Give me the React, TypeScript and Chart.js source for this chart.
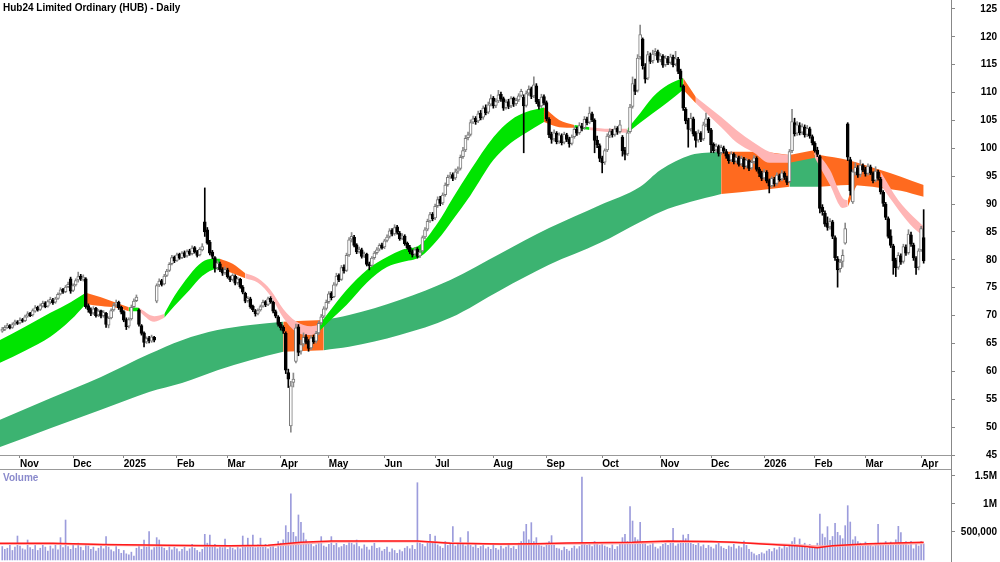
import React, { useEffect, useRef } from "react";
import { Chart, registerables } from "chart.js";

Chart.register(...registerables);

const TITLE = "Hub24 Limited Ordinary (HUB) - Daily";
const VOLUME_LABEL = "Volume";

// Daily candles, index 0 = 23 Oct 2024
const opens = [
  67.2,67.5,67.9,68.2,67.9,68.5,68.9,68.7,69.3,69.1,
  69.9,70.4,70.1,70.8,71.5,71.1,71.7,72.3,71.7,72.4,
  72.8,72.4,73.1,73.9,74.7,74.3,75.2,76.6,74.5,75.5,
  76.4,77.1,76.5,76.6,71.8,71.1,70.5,71.3,70.1,70.9,
  70.0,70.4,68.3,69.6,71.0,71.9,72.4,71.5,70.7,69.3,
  68.1,69.4,71.6,72.7,71.0,68.2,66.9,65.3,66.0,65.4,
  66.1,72.6,75.5,76.3,75.7,77.2,78.1,79.3,80.5,79.9,
  81.0,80.4,81.3,80.7,81.6,81.1,82.2,81.5,80.9,81.8,
  86.8,85.4,83.2,81.4,80.4,78.6,79.3,78.3,77.7,78.2,
  76.9,76.5,77.1,75.9,76.5,75.1,74.0,72.7,73.0,71.7,
  70.9,70.4,71.0,71.7,72.5,72.0,73.1,72.4,70.7,69.8,
  68.5,67.9,66.8,59.8,50.2,58.0,61.8,68.0,63.6,64.9,
  66.2,65.4,64.2,66.1,65.4,66.9,68.7,69.9,71.3,72.5,
  74.0,73.4,75.6,77.2,76.5,78.7,78.1,80.9,83.7,84.1,
  82.7,81.5,81.8,80.7,81.0,79.3,79.0,80.4,81.3,81.9,
  82.7,82.3,83.5,84.2,85.3,84.7,85.9,84.8,83.9,84.2,
  83.0,82.3,81.5,81.0,81.9,80.7,81.6,84.1,85.5,87.0,
  88.2,87.5,89.7,90.9,90.2,91.7,93.5,94.9,95.3,94.7,
  95.9,96.4,98.5,99.7,101.9,102.5,104.7,105.4,104.9,106.3,
  105.6,107.3,106.5,107.9,109.0,107.7,108.5,109.7,108.9,107.3,
  108.4,107.6,109.0,108.0,108.7,109.5,109.2,107.7,109.9,110.7,
  109.4,111.2,108.4,107.6,109.3,108.2,105.2,102.5,101.7,102.7,
  101.3,102.3,101.1,102.4,101.7,100.9,102.1,103.5,102.8,104.0,
  103.7,105.3,104.7,106.2,105.0,101.5,100.5,98.3,97.5,99.7,
  102.3,103.1,102.5,103.6,103.0,102.0,99.7,99.0,103.0,107.5,
  111.4,110.4,116.4,119.6,114.6,112.6,116.6,115.7,117.0,117.3,
  115.9,116.5,115.0,116.1,115.4,116.3,115.1,116.0,113.9,111.2,
  107.0,105.0,103.5,105.3,102.7,101.5,102.7,101.7,104.3,105.2,
  103.3,100.7,99.7,100.3,99.2,100.1,99.4,98.7,97.9,98.9,
  97.7,98.3,97.2,98.1,96.8,97.8,96.5,97.6,98.2,96.3,
  95.6,94.7,95.7,94.2,93.3,94.5,93.7,95.1,94.5,95.5,
  94.7,94.0,99.6,104.6,102.7,104.1,102.9,103.8,102.5,103.5,
  102.1,100.9,99.7,98.5,89.4,88.4,86.6,85.9,86.8,84.0,
  80.2,78.4,79.7,83.0,104.4,98.0,90.4,95.7,96.5,95.3,
  96.9,96.2,95.5,96.7,95.5,94.3,95.8,94.5,92.1,90.0,
  87.4,84.3,82.5,79.9,78.7,80.7,79.7,82.3,81.3,84.5,
  82.7,80.3,78.7,81.8,84.0
];
const highs = [
  67.9,68.2,68.6,68.4,68.7,69.2,69.1,69.6,69.5,70.1,
  70.7,70.6,71.2,71.8,71.7,72.1,72.6,72.5,72.8,73.3,
  73.1,73.3,74.1,75.0,74.9,75.4,76.0,76.9,75.7,76.6,
  77.8,77.4,77.3,76.8,72.1,71.4,71.6,71.5,71.1,71.0,
  70.9,70.6,69.8,71.2,72.2,72.8,72.6,71.7,70.9,69.6,
  69.6,71.9,73.0,73.7,71.2,68.4,67.1,66.2,66.3,66.5,
  66.3,75.7,76.6,76.5,77.4,78.3,79.5,80.8,80.7,81.2,
  81.2,81.5,81.6,81.8,81.9,82.5,82.4,81.7,82.2,82.9,
  92.9,85.8,83.5,81.7,80.6,79.8,79.6,78.6,78.7,78.5,
  77.1,77.5,77.3,76.9,76.7,75.4,74.2,73.4,73.3,71.9,
  71.1,71.2,71.9,72.8,72.7,73.3,73.4,72.6,71.0,70.0,
  68.8,68.2,67.1,60.4,58.2,59.7,68.5,68.4,65.6,66.9,
  66.6,65.7,66.4,66.5,67.2,69.0,70.2,71.6,72.8,74.3,
  74.3,75.9,77.6,77.5,79.0,79.1,81.2,84.0,84.9,84.4,
  82.9,82.3,82.1,81.4,81.2,79.6,80.6,81.5,82.2,82.9,
  83.0,83.7,84.5,85.6,85.6,86.3,86.2,85.1,84.7,84.5,
  83.2,82.6,81.8,82.2,82.2,81.7,84.3,85.8,87.3,88.5,
  88.5,90.0,91.3,91.4,92.0,93.8,95.2,95.7,95.6,96.3,
  96.7,98.8,100.2,102.3,102.9,105.1,105.8,105.7,106.7,106.8,
  107.6,107.8,108.3,109.6,109.3,108.9,110.4,110.1,109.2,108.7,
  108.8,109.3,109.2,109.0,109.8,110.6,109.6,110.3,111.2,111.0,
  112.8,111.6,108.8,109.7,109.6,108.5,105.5,102.9,103.3,103.0,
  102.8,102.6,102.9,102.7,102.0,102.4,103.9,103.8,104.6,104.5,
  105.7,105.6,107.4,106.5,105.3,102.2,100.8,98.6,99.9,102.6,
  103.5,103.4,104.0,103.9,105.0,102.3,100.2,103.2,107.9,112.8,
  112.4,116.8,122.1,119.8,115.2,117.4,117.1,117.6,117.9,117.6,
  117.0,116.8,116.6,116.5,116.9,116.7,117.4,116.3,114.2,111.4,
  107.3,105.4,106.3,105.6,103.0,103.3,103.0,104.7,106.3,105.5,
  103.6,101.0,100.8,100.6,100.6,100.4,99.8,98.9,99.4,99.2,
  98.8,98.6,98.6,98.4,98.2,98.0,97.9,98.7,98.5,96.6,
  95.9,96.2,96.0,94.5,94.9,94.8,95.6,95.4,96.0,95.8,
  95.0,99.8,107.0,105.4,104.8,104.6,104.4,104.2,104.1,103.8,
  102.4,101.2,100.2,98.8,89.9,88.8,87.7,87.4,87.1,84.3,
  80.6,80.1,81.8,86.6,104.6,98.4,96.2,97.4,96.9,97.9,
  97.2,96.6,97.2,97.0,95.8,96.7,96.1,94.8,92.4,90.3,
  87.7,85.4,82.8,80.3,81.3,81.1,82.8,82.7,85.4,85.0,
  83.0,80.6,82.0,86.0,89.0
];
const lows = [
  67.0,67.3,67.7,67.6,67.7,68.3,68.4,68.5,68.8,68.9,
  69.7,69.8,69.9,70.6,70.8,70.9,71.5,71.4,71.5,72.1,
  72.0,72.2,72.9,73.7,74.0,74.1,75.0,74.0,74.3,75.3,
  76.0,76.3,76.2,71.3,70.6,70.0,70.2,69.7,69.8,69.6,
  69.7,67.9,67.8,69.4,70.8,71.6,71.1,70.3,68.9,67.5,
  67.8,69.2,71.4,72.5,68.1,66.5,64.4,65.0,65.1,65.2,
  65.3,72.3,75.2,75.3,75.5,77.0,77.9,79.1,79.5,79.7,
  80.1,80.2,80.4,80.5,80.8,80.9,81.2,80.5,80.7,81.6,
  84.2,82.8,80.9,80.2,77.8,78.2,77.9,77.2,77.4,76.7,
  76.1,76.2,75.5,75.6,74.9,73.9,72.3,72.4,71.3,70.7,
  69.9,70.1,70.8,71.5,71.6,71.8,72.2,70.5,69.6,68.1,
  67.4,66.8,59.6,57.1,49.1,57.2,61.5,62.8,63.1,64.5,
  64.9,63.6,63.9,65.0,65.1,66.6,68.4,69.6,71.0,72.2,
  72.8,73.2,75.3,76.1,76.3,77.6,77.9,80.6,83.2,82.3,
  81.1,81.2,80.3,80.4,78.9,78.2,78.8,80.1,81.0,81.6,
  81.9,82.0,83.2,83.9,84.3,84.4,84.6,83.5,83.6,82.6,
  81.9,81.1,80.5,80.7,80.3,80.4,81.4,83.8,85.2,86.7,
  87.0,87.2,89.4,89.7,89.9,91.4,93.2,94.6,94.2,94.4,
  95.5,96.1,98.2,99.4,101.5,102.2,104.4,104.3,104.6,105.1,
  105.2,106.0,106.2,107.6,107.2,107.3,108.2,108.4,106.8,107.0,
  107.1,107.3,107.5,107.7,108.4,109.2,99.2,107.4,109.5,108.9,
  109.1,108.0,107.0,107.3,107.8,104.9,101.9,100.9,101.3,100.8,
  100.9,100.6,100.8,101.2,100.2,100.6,101.8,102.3,102.5,103.1,
  103.4,104.2,104.4,104.8,99.2,100.1,97.6,95.6,97.1,99.4,
  101.9,102.0,102.2,102.5,102.7,98.6,97.9,98.7,102.7,107.2,
  109.6,110.1,116.0,114.2,111.7,112.3,115.2,115.3,116.6,115.4,
  115.5,114.5,114.7,115.0,115.1,114.6,114.8,113.4,111.0,106.8,
  104.4,100.2,103.1,102.2,100.2,101.1,101.2,101.4,103.9,102.8,
  99.2,99.2,99.4,98.6,98.9,99.1,98.2,97.3,97.6,97.2,
  97.4,96.8,96.9,96.3,96.5,96.0,96.2,97.3,95.9,94.9,
  94.2,94.4,93.8,92.0,93.0,93.2,93.4,94.1,94.2,94.4,
  93.5,93.8,99.2,102.2,102.3,102.4,102.5,102.0,102.1,101.8,
  100.6,99.3,98.5,88.4,88.0,86.0,85.3,85.5,83.8,79.9,
  75.1,77.8,78.7,82.8,97.8,91.6,90.1,95.2,94.8,94.9,
  95.8,95.0,95.2,95.3,93.8,94.0,94.3,91.8,89.6,87.2,
  83.9,82.2,77.4,77.0,78.3,79.2,79.4,80.8,81.0,82.4,
  79.9,77.4,78.2,81.5,79.4
];
const closes = [
  67.6,67.9,68.3,67.8,68.4,68.9,68.6,69.2,69.0,69.8,
  70.3,70.0,70.9,71.4,71.0,71.8,72.2,71.6,72.5,72.9,
  72.3,73.0,73.8,74.6,74.2,75.1,75.6,74.4,75.4,76.3,
  77.0,76.6,76.9,71.6,71.0,70.4,71.2,70.0,70.8,69.9,
  70.6,68.4,69.5,70.9,71.8,72.3,71.4,70.6,69.2,68.0,
  69.3,71.5,72.6,73.3,68.4,66.8,65.2,65.9,65.5,66.2,
  65.6,75.4,76.2,75.6,77.1,78.0,79.2,80.4,79.8,80.9,
  80.3,81.2,80.6,81.5,81.0,82.1,81.4,80.8,81.9,82.4,
  85.0,83.0,81.2,80.6,78.5,79.4,78.2,77.6,78.3,77.0,
  76.4,77.2,75.8,76.6,75.2,74.2,72.6,73.1,71.6,71.0,
  70.3,70.9,71.6,72.4,71.9,73.0,72.5,70.8,69.9,68.4,
  67.8,67.2,60.2,58.6,57.4,58.6,67.8,63.4,64.8,66.1,
  65.2,64.1,66.0,65.3,66.8,68.6,69.8,71.2,72.4,73.9,
  73.2,75.5,77.1,76.4,78.6,78.0,80.8,83.6,84.2,82.6,
  81.4,81.9,80.6,81.1,79.2,78.9,80.3,81.2,81.8,82.6,
  82.2,83.4,84.1,85.2,84.6,85.8,84.9,83.8,84.3,82.9,
  82.2,81.4,80.9,81.8,80.6,81.4,84.0,85.4,86.9,88.1,
  87.4,89.6,90.8,90.1,91.6,93.4,94.8,95.2,94.6,95.8,
  96.3,98.4,99.6,101.8,102.4,104.6,105.3,104.8,106.2,105.5,
  107.2,106.4,107.8,108.9,107.6,108.4,109.6,108.8,107.2,108.3,
  107.5,108.9,107.9,108.6,109.4,110.2,107.6,109.8,110.6,109.3,
  111.4,108.3,107.5,109.2,108.1,105.3,102.4,101.6,102.8,101.2,
  102.4,101.0,102.5,101.6,100.8,102.0,103.4,102.7,104.1,103.6,
  105.2,104.6,106.3,105.1,101.4,100.6,98.2,97.4,99.6,102.2,
  103.0,102.4,103.5,102.9,104.2,99.6,98.9,102.8,107.4,111.6,
  110.2,116.2,120.4,114.8,112.4,116.8,115.6,116.9,117.4,115.8,
  116.6,114.9,116.2,115.3,116.4,115.0,116.1,113.8,112.4,107.2,
  104.9,103.4,105.4,102.6,101.4,102.8,101.6,104.2,105.3,103.2,
  100.6,99.6,100.4,99.1,100.2,99.5,98.6,97.8,99.0,97.6,
  98.4,97.1,98.2,96.7,97.9,96.4,97.5,98.3,96.2,95.5,
  94.6,95.8,94.1,93.2,94.6,93.6,95.2,94.4,95.6,94.8,
  93.9,99.4,104.8,102.6,104.2,102.8,103.9,102.4,103.6,102.2,
  101.0,99.6,98.9,89.2,88.6,86.4,85.8,86.9,84.2,80.4,
  78.2,79.6,80.8,85.6,98.4,92.4,95.8,96.6,95.2,97.0,
  96.1,95.4,96.8,95.6,94.2,95.9,94.6,92.2,90.1,87.6,
  84.2,82.6,79.8,78.6,80.8,79.6,82.4,81.2,84.6,82.8,
  80.4,78.6,81.6,85.6,79.8
];
// daily volume, thousands of shares
const volumesK = [
  240,190,210,260,170,230,428,250,200,180,
  357,220,190,260,170,210,280,230,160,250,
  200,270,180,399,220,714,240,190,260,210,
  300,230,170,280,250,190,230,160,210,270,
  200,417,230,180,150,240,190,120,170,110,
  90,140,70,210,260,190,357,230,506,180,
  220,399,357,240,210,170,260,180,230,200,
  150,190,230,160,200,280,210,170,140,190,
  458,300,446,240,280,200,260,220,375,190,
  240,210,180,260,200,428,230,390,250,446,
  220,270,390,240,280,200,230,260,210,330,
  300,360,613,494,1180,494,420,804,673,481,
  360,280,310,240,270,300,417,250,230,280,
  417,260,300,220,240,280,260,330,300,270,
  357,240,200,270,230,180,250,300,210,220,
  160,190,230,140,200,170,120,180,150,210,
  240,200,260,190,1380,300,280,240,320,458,
  300,428,270,240,210,330,260,290,595,250,
  300,399,280,250,506,260,230,280,210,240,
  260,200,230,190,280,210,180,250,200,230,
  270,210,240,190,300,330,506,637,360,667,
  330,399,280,250,230,300,330,435,260,210,
  200,170,230,190,160,210,250,200,240,1480,
  300,260,280,240,330,280,260,300,250,230,
  210,270,190,240,300,399,458,330,952,696,
  400,360,673,330,290,250,270,310,230,200,
  240,280,300,260,330,565,250,290,340,446,
  380,458,300,280,260,300,240,270,210,260,
  230,200,270,300,240,210,190,250,230,280,
  200,250,220,339,260,190,140,110,80,100,
  130,110,160,190,150,210,180,230,200,250,
  220,280,330,399,240,375,260,300,210,280,
  250,230,300,821,464,400,595,350,420,655,
  494,435,380,613,970,678,360,417,330,300,
  280,320,260,290,240,300,637,300,260,330,
  280,320,300,360,601,488,300,330,260,333,
  200,280,250,330,290
];

// Month ticks (trading-day index of first session of month)
const monthTickIdx = [7, 28, 48, 69, 89, 110, 129, 151, 171, 194, 215, 237, 260, 280, 301, 321, 341, 363];
const monthTickLabels = ["Nov", "Dec", "2025", "Feb", "Mar", "Apr", "May", "Jun", "Jul", "Aug", "Sep", "Oct", "Nov", "Dec", "2026", "Feb", "Mar", "Apr"];
const priceTicks = [45, 50, 55, 60, 65, 70, 75, 80, 85, 90, 95, 100, 105, 110, 115, 120, 125];
const volTicks = [500000, 1000000, 1500000];
const volTickLabels = ["500,000", "1M", "1.5M"];

// Short-term ribbon (key points): u = rising, d = turning down, w = weak
const shortIdx = [-1,9,19,27,33,39,45,50,54,60,64,68,74,79,83,86,91,96,101,106,111,116,122,125,129,136,144,152,158,165,172,178,185,194,201,207,214,220,226,232,240,247,252,257,263,269,274,284,290,297,303,311,321,327,332,334,339,347,354,360,364];
const shortTop = [65.6,68.0,70.5,72.4,74.1,73.3,72.3,71.5,71.4,69.9,70.3,73.5,77.3,79.6,80.2,80.2,79.3,77.6,76.7,74.6,71.2,69.0,68.1,68.3,70.6,74.6,78.2,80.5,81.8,82.7,86.6,91.1,96.1,102.0,105.1,106.5,107.3,105.1,104.2,103.8,103.5,103.5,106.3,109.2,111.4,112.6,109.2,105.6,103.3,101.0,99.4,98.8,99.7,96.1,91.1,90.7,96.5,95.8,90.7,87.7,86.0];
const shortBot = [61.5,63.7,66.2,69.2,72.1,71.7,71.4,70.8,70.8,68.9,69.6,71.7,74.6,77.1,78.2,78.4,77.6,76.7,75.9,73.5,69.6,67.1,66.5,67.1,68.9,71.9,75.9,78.7,79.6,80.5,83.6,87.2,91.6,97.9,101.0,102.8,104.7,103.8,103.7,103.3,102.9,102.8,104.6,106.3,108.3,110.5,108.1,103.8,101.1,99.2,97.4,97.4,98.3,93.4,89.3,89.5,94.0,93.4,89.0,85.7,84.3];
const shortState = [
  "u","u","u","u","d","d","d","u","w","w",
  "u","u","u","u","u","d","d","w","w","w",
  "w","w","w","u","u","u","u","u","u","u",
  "u","u","u","u","u","u","d","d","u","w",
  "w","u","u","u","u","d","w","w","w","w",
  "w","d","w","w","w","d","d","w","w","w",
  "w"
];

// Long-term ribbon (key points)
const longIdx = [-1,19,39,58,71,85,98,111,127,137,157,177,197,216,236,252,260,272,284,299,311,323,334,347,355,364];
const longTop = [51.3,55.2,59.0,63.1,65.6,67.4,68.3,68.9,69.2,70.1,72.8,76.4,81.2,85.7,89.8,93.1,96.1,98.8,99.4,99.4,98.8,98.8,97.9,96.1,94.9,93.4];
const longBot = [46.4,49.8,53.1,56.3,57.9,60.2,62.0,63.5,63.8,64.4,66.5,69.6,74.6,79.1,83.0,86.8,88.6,90.4,91.8,92.5,93.1,93.1,93.4,92.9,92.4,91.3];
const longState = ["u","u","u","u","u","u","u","d","u","u","u","u","u","u","u","u","u","u","d","d","u","d","d","d","d","d"];

// Volume moving averages (key points, thousands)
const volMaIdx = [-1,20,40,65,90,105,118,130,150,164,177,197,210,223,249,263,280,289,302,315,322,328,342,364];
const volMaVals = [300,300,275,262,255,262,315,340,338,340,300,285,292,303,315,339,330,315,280,250,220,256,292,315];
const volMa2Vals = [285,290,268,255,246,250,290,325,330,332,305,282,280,290,300,322,325,312,290,262,245,248,270,300];

const FONT_FAMILY = '"Liberation Sans", Arial, Helvetica, sans-serif';
const X_MIN = -0.9;
const X_MAX = 374.8;

function ribbonDatasets(idx: number[], top: number[], bot: number[], state: string[], palette: Record<string, string>, order: number) {
  const out: any[] = [];
  let s = 0;
  while (s < idx.length - 1) {
    let e = s + 1;
    while (e < idx.length - 1 && state[e] === state[s]) e++;
    const up: any[] = [];
    const lo: any[] = [];
    for (let k = s; k <= e; k++) {
      up.push({ x: idx[k], y: top[k] });
      lo.push({ x: idx[k], y: bot[k] });
    }
    const color = palette[state[s]];
    out.push({
      type: "line", data: up, fill: "+1", backgroundColor: color, borderColor: color,
      borderWidth: 0, pointRadius: 0, pointHitRadius: 0, cubicInterpolationMode: "monotone", order,
    });
    out.push({
      type: "line", data: lo, fill: false, backgroundColor: color, borderColor: color,
      borderWidth: 0, pointRadius: 0, pointHitRadius: 0, cubicInterpolationMode: "monotone", order,
    });
    s = e;
  }
  return out;
}

function zeroPad(s: any) {
  s.paddingTop = 0;
  s.paddingBottom = 0;
  s.paddingLeft = 0;
  s.paddingRight = 0;
}

export default function App() {
  const priceRef = useRef<HTMLCanvasElement>(null);
  const volRef = useRef<HTMLCanvasElement>(null);

  useEffect(() => {
    const font = { family: FONT_FAMILY, size: 10, weight: "bold" as const };
    const n = closes.length;
    const isUp = closes.map((c, i) => c >= opens[i]);
    const bodyData = closes.map((c, i) => ({ x: i, y: [Math.min(opens[i], c), Math.max(opens[i], c)] }));
    const wickData = closes.map((c, i) => ({
      x: i,
      y: [Math.min(lows[i], opens[i], c), Math.max(highs[i], opens[i], c)],
    }));

    const shortPalette = { u: "#00e400", d: "#ff6a1f", w: "#ffb5b5" };
    const longPalette = { u: "#3cb371", d: "#ff6a1f", w: "#ffb5b5" };

    const datasets: any[] = [
      {
        type: "bar", data: bodyData, grouped: false, barThickness: 3, minBarLength: 1,
        backgroundColor: isUp.map((u) => (u ? "#ffffff" : "#000000")),
        borderColor: isUp.map((u) => (u ? "#7a7a7a" : "#000000")),
        borderWidth: 1, borderSkipped: false, order: 0,
      },
      {
        type: "bar", data: wickData, grouped: false, barThickness: 1,
        backgroundColor: isUp.map((u) => (u ? "#8a8a8a" : "#000000")),
        borderWidth: 0, order: 0,
      },
      ...ribbonDatasets(shortIdx, shortTop, shortBot, shortState, shortPalette, 1),
      ...ribbonDatasets(longIdx, longTop, longBot, longState, longPalette, 2),
    ];

    const priceChart = new Chart(priceRef.current as HTMLCanvasElement, {
      type: "bar",
      data: { datasets },
      options: {
        responsive: false,
        animation: false,
        devicePixelRatio: 1,
        layout: { padding: { left: 0, right: 3, top: 0, bottom: 0 } },
        plugins: { legend: { display: false }, tooltip: { enabled: false }, title: { display: false } },
        events: [],
        scales: {
          x: {
            type: "linear", position: "bottom", min: X_MIN, max: X_MAX, offset: false,
            afterBuildTicks: (s: any) => { s.ticks = monthTickIdx.map((v) => ({ value: v })); },
            afterFit: (s: any) => { s.height = 14; zeroPad(s); },
            ticks: {
              autoSkip: false, maxRotation: 0, minRotation: 0, align: "start", padding: 0,
              font, color: "#000",
              callback: (v: any) => monthTickLabels[monthTickIdx.indexOf(Number(v))] ?? "",
            },
            grid: { drawOnChartArea: false, drawTicks: true, tickLength: 3, color: "#888", offset: false },
            border: { display: true, color: "#999" },
          },
          y: {
            type: "linear", position: "right", min: 45, max: 126.6,
            afterBuildTicks: (s: any) => { s.ticks = priceTicks.map((v) => ({ value: v })); },
            afterFit: (s: any) => { s.width = 46; zeroPad(s); },
            ticks: { font, color: "#000", crossAlign: "far", padding: 24, callback: (v: any) => String(v) },
            grid: { drawOnChartArea: false, drawTicks: true, tickLength: 4, color: "#888" },
            border: { display: true, color: "#888" },
          },
        },
      } as any,
    });

    const volData = volumesK.slice(0, n).map((v, i) => ({ x: i, y: v * 1000 }));
    const maData = volMaIdx.map((x, k) => ({ x, y: volMaVals[k] * 1000 }));
    const ma2Data = volMaIdx.map((x, k) => ({ x, y: volMa2Vals[k] * 1000 }));

    const volChart = new Chart(volRef.current as HTMLCanvasElement, {
      type: "bar",
      data: {
        datasets: [
          { type: "line", data: maData, borderColor: "#ff1a1a", borderWidth: 1.5, pointRadius: 0, tension: 0, fill: false, order: 0 },
          { type: "line", data: ma2Data, borderColor: "#ffb0b0", borderWidth: 2, pointRadius: 0, tension: 0, fill: false, order: 0 },
          { type: "bar", data: volData, grouped: false, barThickness: 1, backgroundColor: "#9c9cdc", borderWidth: 0, order: 1 },
        ] as any,
      },
      options: {
        responsive: false,
        animation: false,
        devicePixelRatio: 1,
        layout: { padding: { left: 0, right: 3, top: 0, bottom: 0 } },
        plugins: { legend: { display: false }, tooltip: { enabled: false } },
        events: [],
        scales: {
          x: { type: "linear", min: X_MIN, max: X_MAX, offset: false, display: false },
          y: {
            type: "linear", position: "right", min: -36000, max: 1625000,
            afterBuildTicks: (s: any) => { s.ticks = volTicks.map((v) => ({ value: v })); },
            afterFit: (s: any) => { s.width = 46; zeroPad(s); },
            ticks: {
              font, color: "#000", crossAlign: "far", padding: 6,
              callback: (v: any) => volTickLabels[volTicks.indexOf(Number(v))] ?? "",
            },
            grid: { drawOnChartArea: false, drawTicks: true, tickLength: 4, color: "#888" },
            border: { display: true, color: "#888" },
          },
        },
      } as any,
    });

    return () => {
      priceChart.destroy();
      volChart.destroy();
    };
  }, []);

  return (
    <div style={{ position: "fixed", left: 0, top: 0, width: 1000, height: 562, background: "#fff", overflow: "hidden" }}>
      <canvas ref={priceRef} width={1000} height={469} style={{ position: "absolute", left: 0, top: 0 }} />
      <canvas ref={volRef} width={1000} height={93} style={{ position: "absolute", left: 0, top: 469 }} />
      <div style={{ position: "absolute", left: 0, top: 469, width: 951, height: 1, background: "#999" }} />
      <div style={{ position: "absolute", left: 951, top: 455, width: 1, height: 14, background: "#888" }} />
      <div style={{ position: "absolute", left: 3, top: 2, font: `bold 10px ${FONT_FAMILY}`, lineHeight: "12px", color: "#000", whiteSpace: "nowrap" }}>
        {TITLE}
      </div>
      <div style={{ position: "absolute", left: 3, top: 472, font: `bold 10px ${FONT_FAMILY}`, lineHeight: "12px", color: "#8a8acc", whiteSpace: "nowrap" }}>
        {VOLUME_LABEL}
      </div>
    </div>
  );
}
